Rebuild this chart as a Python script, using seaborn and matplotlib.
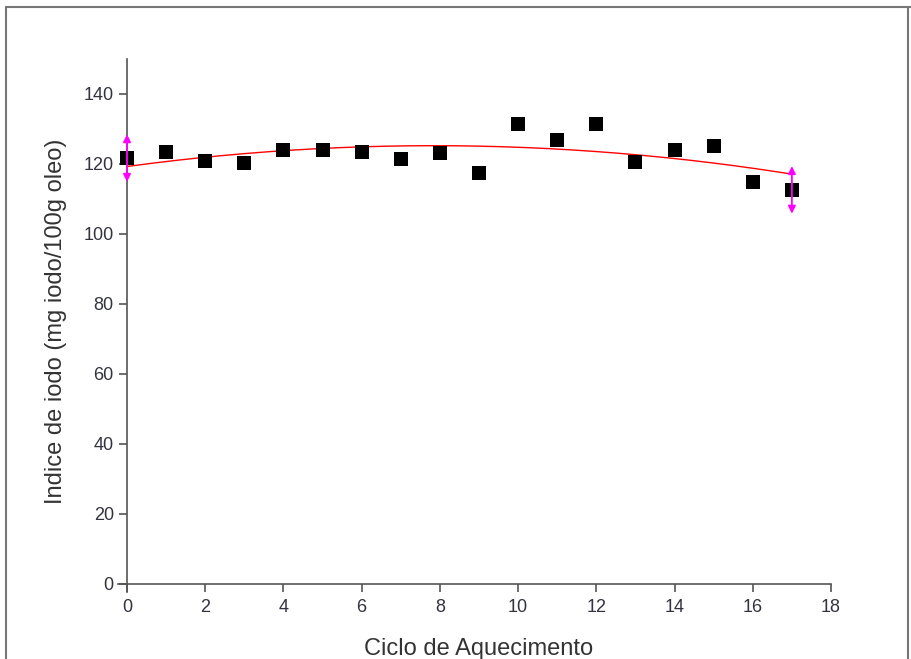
import numpy as np
import pandas as pd
import matplotlib
matplotlib.use("Agg")
import matplotlib.pyplot as plt
from matplotlib.lines import Line2D
import seaborn as sns

ciclo = [0, 1, 2, 3, 4, 5, 6, 7, 8, 9, 10, 11, 12, 13, 14, 15, 16, 17]
indice_iodo = [121.7, 123.4, 120.9, 120.3, 124.0, 124.0, 123.4, 121.4, 123.1, 117.4,
               131.4, 126.9, 131.4, 120.6, 124.0, 125.1, 114.9, 112.6]
x_ticks = [0, 2, 4, 6, 8, 10, 12, 14, 16, 18]
y_ticks = [0, 20, 40, 60, 80, 100, 120, 140]

df = pd.DataFrame({"ciclo": ciclo, "iodo": indice_iodo})
coef = np.polyfit(df["ciclo"], df["iodo"], 2)
xf = np.linspace(min(ciclo), max(ciclo), 200)
fit = pd.DataFrame({"ciclo": xf, "iodo": np.polyval(coef, xf)})

sns.set_style("white")
plt.rcParams["font.family"] = ["Liberation Sans", "DejaVu Sans"]

fig = plt.figure(figsize=(9.11, 6.59), dpi=100)
ax = fig.add_axes([127/911, 1-584/659, (831-127)/911, (584-59)/659])

sns.lineplot(data=fit, x="ciclo", y="iodo", color="red", lw=1.0, ax=ax)
sns.scatterplot(data=df, x="ciclo", y="iodo", marker="s", s=95, color="black",
                edgecolor="black", linewidth=0, ax=ax, zorder=3, clip_on=False)

for xi in (ciclo[0], ciclo[-1]):
    yi = df.loc[df["ciclo"] == xi, "iodo"].iloc[0]
    ax.annotate("", xy=(xi, yi + 6.8), xytext=(xi, yi - 6.8),
                arrowprops=dict(arrowstyle="<|-|>", color="magenta", lw=1.3,
                                mutation_scale=11, shrinkA=0, shrinkB=0),
                annotation_clip=False, zorder=4)

ax.set_xlim(0, 18)
ax.set_ylim(0, 150)
ax.set_xticks(x_ticks)
ax.set_yticks(y_ticks)
for s in ("top", "right"):
    ax.spines[s].set_visible(False)
for s in ("left", "bottom"):
    ax.spines[s].set_color("#555555")
    ax.spines[s].set_linewidth(1.2)
ax.spines["bottom"].set_bounds(-0.23, 18)
ax.spines["left"].set_bounds(-2.3, 150)
ax.tick_params(axis="both", direction="out", length=6, width=1.2, color="#555555",
               labelsize=13, labelcolor="#333340", bottom=True, left=True)
ax.tick_params(axis="x", pad=5)
ax.set_xlabel("Ciclo de Aquecimento", fontsize=17, color="#333333", labelpad=16)
ax.set_ylabel("Indice de iodo (mg iodo/100g oleo)", fontsize=17, color="#333333", labelpad=12)

# figure frame
fc = "#777777"
fig.add_artist(Line2D([6/911, 6/911], [0, 1-7/659], color=fc, lw=1.5))
fig.add_artist(Line2D([6/911, 1], [1-7/659, 1-7/659], color=fc, lw=1.5))
fig.add_artist(Line2D([908/911, 908/911], [0, 1-7/659], color=fc, lw=1.5))

fig.savefig("out.png", dpi=100)
